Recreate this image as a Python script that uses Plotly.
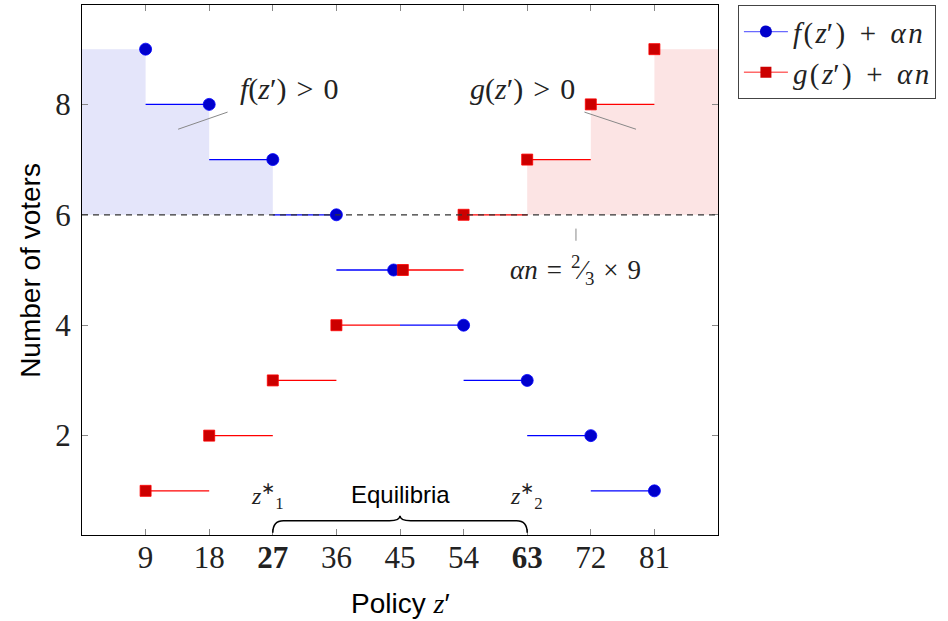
import plotly.graph_objects as go

# ---- data ----
policy = [9, 18, 27, 36, 45, 54, 63, 72, 81]
f_vals = [9, 8, 7, 6, 5, 4, 3, 2, 1]
g_vals = [1, 2, 3, 4, 5, 6, 7, 8, 9]
f_marker_x = [9, 18, 27, 36, 44.1, 54, 63, 72, 81]
g_marker_x = [9, 18, 27, 36, 45.4, 54, 63, 72, 81]
alpha_n = 6
step = 9
x_ticks = [9, 18, 27, 36, 45, 54, 63, 72, 81]
x_ticktext = ["9", "18", "<b>27</b>", "36", "45", "54", "<b>63</b>", "72", "81"]
y_ticks = [2, 4, 6, 8]
z1, z2 = 27, 63

SERIF = "Liberation Serif"
SANS = "Liberation Sans"
BLUE_LINE = "#0000ff"
BLUE_MK = "#0000cc"
RED_LINE = "#ff0000"
RED_MK = "#cc0000"
SP = "\u2004"
SP2 = "\u2002"
HS = "\u200a"

fig = go.Figure()

# shaded regions (f > alpha n on left, g > alpha n on right)
bx, by = [], []
for x, y in zip(policy, f_vals):
    if y > alpha_n:
        x0 = x - step
        bx += [x0, x0, x, x, None]
        by += [alpha_n, y, y, alpha_n, None]
rx, ry = [], []
for x, y in zip(policy, g_vals):
    if y > alpha_n:
        x1 = x + step
        rx += [x, x, x1, x1, None]
        ry += [alpha_n, y, y, alpha_n, None]
fig.add_trace(go.Scatter(x=bx, y=by, fill="toself", fillcolor="rgb(228,229,250)",
                         line=dict(width=0), mode="lines", showlegend=False, hoverinfo="skip"))
fig.add_trace(go.Scatter(x=rx, y=ry, fill="toself", fillcolor="rgb(252,228,228)",
                         line=dict(width=0), mode="lines", showlegend=False, hoverinfo="skip"))

# step segments
flx, fly = [], []
for i in range(1, len(policy)):
    flx += [policy[i - 1], f_marker_x[i], None]
    fly += [f_vals[i], f_vals[i], None]
glx, gly = [], []
for i in range(len(policy) - 1):
    glx += [g_marker_x[i], policy[i + 1], None]
    gly += [g_vals[i], g_vals[i], None]

fig.add_trace(go.Scatter(x=flx, y=fly, mode="lines", line=dict(color=BLUE_LINE, width=1.3),
                         showlegend=False, hoverinfo="skip"))
fig.add_trace(go.Scatter(x=glx, y=gly, mode="lines", line=dict(color=RED_LINE, width=1.3),
                         showlegend=False, hoverinfo="skip"))

# dashed alpha n line
fig.add_shape(type="line", x0=0, x1=90, y0=alpha_n, y1=alpha_n, xref="x", yref="y",
              line=dict(color="#333333", width=1.2, dash="6px,5px"))

fig.add_trace(go.Scatter(x=f_marker_x, y=f_vals, mode="markers",
                         marker=dict(symbol="circle", size=12, color=BLUE_MK,
                                     line=dict(color=BLUE_LINE, width=0.8)),
                         showlegend=False))
fig.add_trace(go.Scatter(x=g_marker_x, y=g_vals, mode="markers",
                         marker=dict(symbol="square", size=11, color=RED_MK,
                                     line=dict(color=RED_LINE, width=0.8)),
                         showlegend=False))

# legend entries
fig.add_trace(go.Scatter(x=[None], y=[None], mode="lines+markers",
                         name=f"<i>f</i>{HS}({HS}<i>z</i>′{HS}){SP2}+{SP2}<i>α</i>{HS}<i>n</i>",
                         line=dict(color="#6a6aff", width=1.3),
                         marker=dict(symbol="circle", size=12, color=BLUE_MK)))
fig.add_trace(go.Scatter(x=[None], y=[None], mode="lines+markers",
                         name=f"<i>g</i>{HS}({HS}<i>z</i>′{HS}){SP2}+{SP2}<i>α</i>{HS}<i>n</i>",
                         line=dict(color="#ff6a6a", width=1.3),
                         marker=dict(symbol="square", size=11, color=RED_MK)))

# annotation pointer lines
fig.add_shape(type="line", x0=13.6, y0=7.55, x1=20.6, y1=7.86, line=dict(color="#888888", width=1))
fig.add_shape(type="line", x0=71.1, y0=7.86, x1=78.4, y1=7.55, line=dict(color="#888888", width=1))
fig.add_shape(type="line", x0=69.9, y0=5.75, x1=69.9, y1=5.53, line=dict(color="#888888", width=1))

# brace
bh, bm, bt = 0.24, 0.46, 0.55
mid = (z1 + z2) / 2
brace = (f"M {z1},{bh} Q {z1},{bm} {z1+1.5},{bm} L {mid-1.5},{bm} Q {mid},{bm} {mid},{bt} "
         f"Q {mid},{bm} {mid+1.5},{bm} L {z2-1.5},{bm} Q {z2},{bm} {z2},{bh}")
fig.add_shape(type="path", path=brace, xref="x", yref="y", line=dict(color="black", width=1.5))

afont = dict(family=SERIF, size=30, color="#222222")
fig.add_annotation(x=29.4, y=8.27, text=f"<i>f</i>(<i>z</i>′){SP}>{SP}0", showarrow=False, font=afont)
fig.add_annotation(x=62.3, y=8.27, text=f"<i>g</i>(<i>z</i>′){SP}>{SP}0", showarrow=False, font=afont)
fig.add_annotation(x=69.9, y=5.0,
                   text=f"<i>α</i><i>n</i>{SP}={SP}<sup>2</sup>⁄<sub>3</sub>{SP}×{SP}9",
                   showarrow=False, font=dict(family=SERIF, size=27, color="#222222"))
fig.add_annotation(x=45, y=0.93, text="Equilibria", showarrow=False,
                   font=dict(family=SANS, size=24, color="black"))
fig.add_annotation(x=26.3, y=0.9, text="<i>z</i><sup>∗</sup><sub>1</sub>", showarrow=False,
                   font=dict(family=SERIF, size=24, color="#222222"))
fig.add_annotation(x=62.9, y=0.9, text="<i>z</i><sup>∗</sup><sub>2</sub>", showarrow=False,
                   font=dict(family=SERIF, size=24, color="#222222"))

# axis titles
fig.add_annotation(xref="paper", yref="paper", x=0.5, y=-0.130, yanchor="middle",
                   text="Policy <i style='font-family:Liberation Serif'>z</i>′",
                   showarrow=False, font=dict(family=SANS, size=28, color="black"))
fig.add_annotation(xref="paper", yref="paper", x=-0.082, y=0.5, xanchor="center",
                   text="Number of voters", textangle=-90,
                   showarrow=False, font=dict(family=SANS, size=28, color="black"))

fig.update_layout(
    width=948, height=621,
    margin=dict(l=82, r=230, t=5, b=86, autoexpand=False),
    paper_bgcolor="white", plot_bgcolor="white",
    legend=dict(x=1.031, y=1.0, xanchor="left", yanchor="top",
                bordercolor="#444444", borderwidth=1.2,
                font=dict(family=SERIF, size=29, color="#222222"),
                tracegroupgap=0, itemwidth=44),
    xaxis=dict(range=[0, 90], tickvals=x_ticks, ticktext=x_ticktext, automargin=False,
               showgrid=False, zeroline=False, showline=True, linecolor="black", linewidth=1,
               mirror="allticks", ticks="inside", ticklen=6, tickcolor="#888888",
               ticklabelstandoff=-5,
               tickfont=dict(family=SERIF, size=31, color="#222222")),
    yaxis=dict(range=[0.2, 9.8], tickvals=y_ticks, automargin=False,
               showgrid=False, zeroline=False, showline=True, linecolor="black", linewidth=1,
               mirror="allticks", ticks="inside", ticklen=6, tickcolor="#888888",
               ticklabelstandoff=4,
               tickfont=dict(family=SERIF, size=31, color="#222222")),
)

fig.write_html("out.html", post_script="document.body.style.margin='0px';",
               config={"displayModeBar": False})
